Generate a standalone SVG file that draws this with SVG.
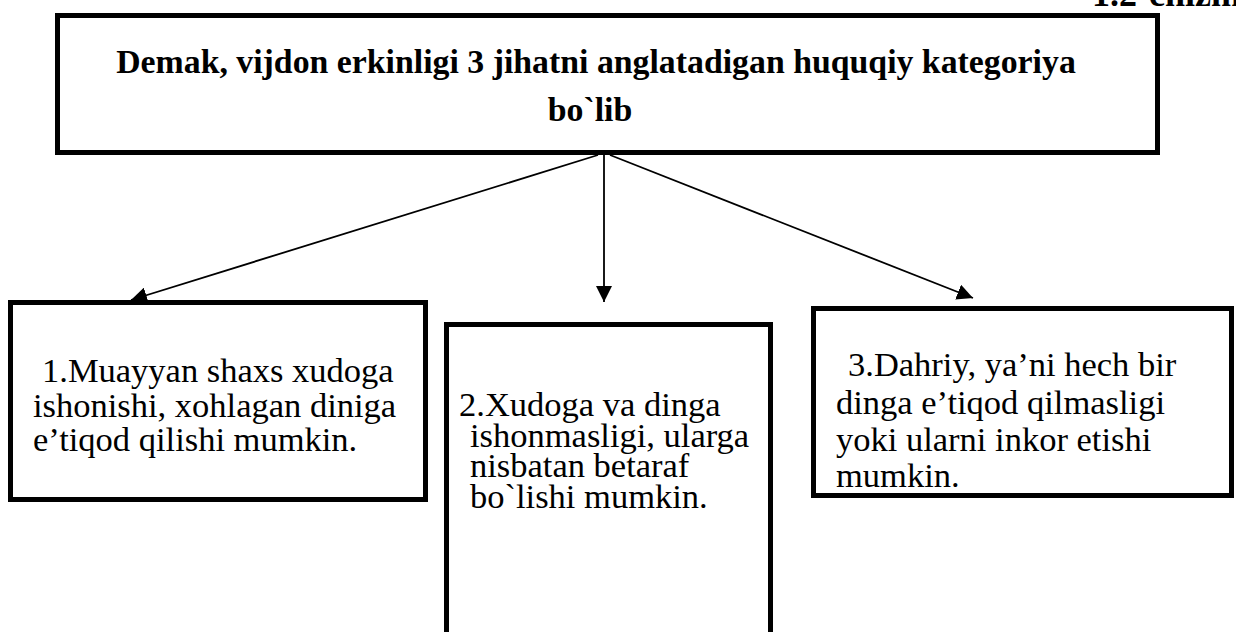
<svg xmlns="http://www.w3.org/2000/svg" width="1236" height="632" viewBox="0 0 1236 632">
<style>
.box{fill:#fff;stroke:#000;stroke-width:5}
.title{font-family:"Liberation Serif","Times New Roman",serif;font-weight:bold;font-size:33.8px;fill:#000}
.corner{font-family:"Liberation Serif","Times New Roman",serif;font-weight:bold;font-size:36px;fill:#000}
.body{font-family:"Liberation Serif","Times New Roman",serif;font-size:34.5px;fill:#000}
.conn{stroke:#000;stroke-width:1.8;fill:none;marker-end:url(#arrow)}
</style>
<defs>
<marker id="arrow" viewBox="0 0 16 16" refX="16" refY="8" markerWidth="16" markerHeight="16" markerUnits="userSpaceOnUse" orient="auto">
<path d="M0,0 L16,8 L0,16 Z" fill="#000"/>
</marker>
</defs>
<rect width="1236" height="632" fill="#fff"/>
<text class="corner" x="1092" y="6">1.2-chizma</text>
<g id="node-top">
<rect class="box" x="57.5" y="15.5" width="1100" height="137"/>
<text class="title" x="596" y="73" text-anchor="middle">Demak, vijdon erkinligi 3 jihatni anglatadigan huquqiy kategoriya</text>
<text class="title" x="590" y="121" text-anchor="middle">bo`lib</text>
</g>
<g id="connectors">
<line class="conn" x1="598" y1="155" x2="131" y2="300"/>
<line class="conn" x1="604" y1="155" x2="604" y2="302"/>
<line class="conn" x1="610" y1="155" x2="973" y2="298"/>
</g>
<g id="node-1">
<rect class="box" x="10.5" y="302.5" width="415" height="197"/>
<text class="body" x="42" y="382">1.Muayyan shaxs xudoga</text>
<text class="body" x="33" y="417">ishonishi, xohlagan diniga</text>
<text class="body" x="33" y="451">e’tiqod qilishi mumkin.</text>
</g>
<g id="node-2">
<rect class="box" x="446.5" y="324.5" width="324" height="320"/>
<text class="body" x="459" y="416">2.Xudoga va dinga</text>
<text class="body" x="470" y="447">ishonmasligi, ularga</text>
<text class="body" x="470" y="477">nisbatan betaraf</text>
<text class="body" x="470" y="508">bo`lishi mumkin.</text>
</g>
<g id="node-3">
<rect class="box" x="813.5" y="308.5" width="418" height="187"/>
<text class="body" x="848" y="376">3.Dahriy, ya’ni hech bir</text>
<text class="body" x="836" y="414">dinga e’tiqod qilmasligi</text>
<text class="body" x="836" y="451">yoki ularni inkor etishi</text>
<text class="body" x="836" y="487">mumkin.</text>
</g>
</svg>
